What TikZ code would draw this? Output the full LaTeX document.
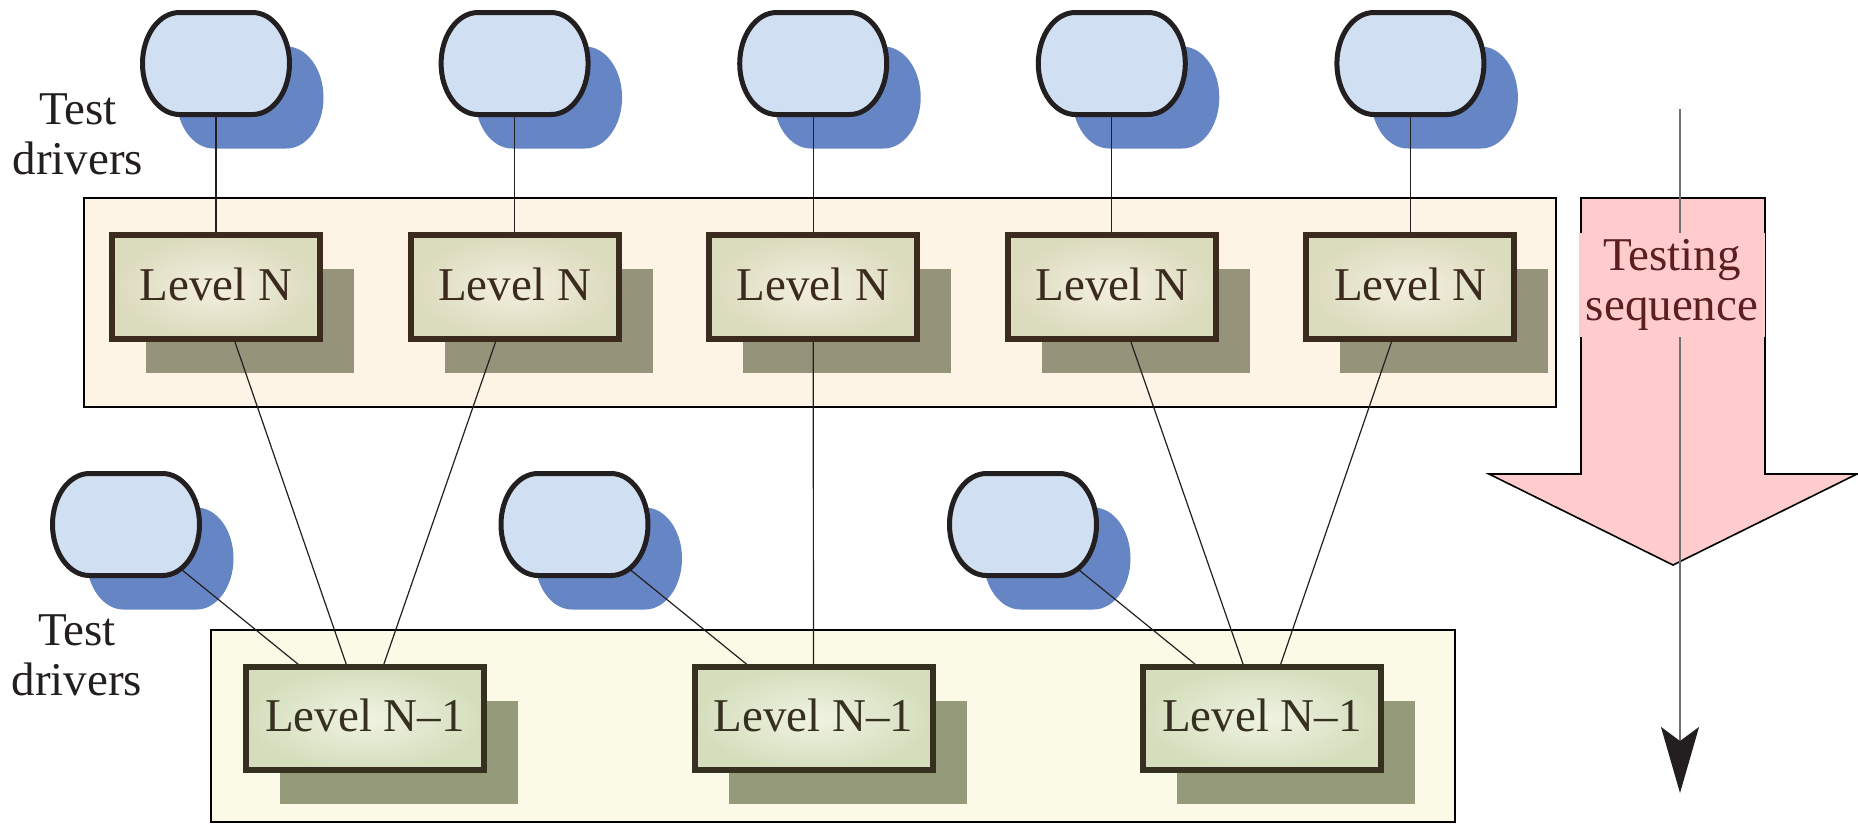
\documentclass[tikz,border=0pt]{standalone}
\usepackage{fontspec}
\setmainfont{Liberation Serif}
\usetikzlibrary{arrows.meta}
\pgfdeclarelayer{bg}
\pgfdeclarelayer{shadow}
\pgfdeclarelayer{lines}
\pgfsetlayers{bg,shadow,lines,main}
\definecolor{pillfill}{HTML}{D0E0F2}
\definecolor{pillshadow}{HTML}{6685C4}
\definecolor{ink}{HTML}{231F20}
\definecolor{outerA}{HTML}{FDF4E6}
\definecolor{outerB}{HTML}{FAFAE6}
\definecolor{lvlNline}{HTML}{3B2B1E}
\definecolor{lvlNin}{HTML}{F3EFDF}
\definecolor{lvlNout}{HTML}{DBDBBD}
\definecolor{lvlNshadow}{HTML}{96937B}
\definecolor{lvlMline}{HTML}{35301F}
\definecolor{lvlMin}{HTML}{F0F3E2}
\definecolor{lvlMout}{HTML}{D4DEBC}
\definecolor{lvlMshadow}{HTML}{959A7B}
\definecolor{arrowfill}{HTML}{FFCCCE}
\definecolor{seqtext}{HTML}{5B1F22}
\definecolor{seqline}{HTML}{707070}
% pill outline around an (invisible) node; #1 style, #2 node, #3 shift
\newcommand\pillpath[3]{\path[#1] ([shift={#3},xshift=-18.5pt]#2.north east)
  arc[start angle=90,end angle=-90,x radius=18.5pt,y radius=25.5pt]
  -- ([shift={#3},xshift=18.5pt]#2.south west)
  arc[start angle=270,end angle=90,x radius=18.5pt,y radius=25.5pt] -- cycle;}
\newcommand\boxshadow[2]{\fill[#2] ([shift={(17pt,-17pt)}]#1.south west) rectangle ([shift={(17pt,-17pt)}]#1.north east);}
\tikzset{
  bigfont/.style={font=\fontsize{23.5pt}{25pt}\selectfont},
  outerbox/.style={draw=black, line width=1pt, inner sep=0pt, outer sep=0pt},
  pillnode/.style={minimum width=73.5pt, minimum height=51pt, inner sep=0pt, outer sep=0pt},
  pillbody/.style={draw=ink, line width=2.5pt, fill=pillfill},
  lvlN/.style={bigfont, draw=lvlNline, line width=3pt, shading=radial, inner color=lvlNin, outer color=lvlNout,
    minimum width=104pt, minimum height=52pt, inner sep=0pt, outer sep=0pt, text=lvlNline, text depth=3pt},
  lvlM/.style={bigfont, draw=lvlMline, line width=3pt, shading=radial, inner color=lvlMin, outer color=lvlMout,
    minimum width=119pt, minimum height=51.5pt, inner sep=0pt, outer sep=0pt, text=lvlMline, text depth=3pt},
  conn/.style={draw=ink, line width=0.6pt},
  sidelabel/.style={bigfont, align=center, text=ink, inner sep=0pt},
  bigarrow/.style={fill=arrowfill, draw=black, line width=0.8pt, line join=miter},
  seqarrow/.style={draw=seqline, line width=1pt, -{Stealth[length=33pt, width=19pt, inset=7pt, color=ink]}},
  seqlabel/.style={bigfont, align=center, text=seqtext, fill=arrowfill}
}
\begin{document}
\begin{tikzpicture}[x=0.5pt, y=-0.5pt]
\useasboundingbox (0,0) rectangle (1858,826);
% group boxes and big arrow
\begin{pgfonlayer}{bg}
  \node[outerbox, fill=outerA, minimum width=736pt, minimum height=104.5pt] (grpN) at (819.5,302.5) {};
  \node[outerbox, fill=outerB, minimum width=622pt, minimum height=96pt] (grpM) at (833,726) {};
  \draw[bigarrow] (1581,198) -- (1765,198) -- (1765,474) -- (1857,474) -- (1673,565) -- (1489,474) -- (1581,474) -- cycle;
\end{pgfonlayer}
% nodes
\foreach \i/\x in {1/216,2/514.6,3/813.2,4/1111.8,5/1410.4} {
  \node[pillnode] (pA\i) at (\x,63.5) {};
  \node[lvlN] (nA\i) at (\x,287) {Level N};
}
\foreach \i/\x/\px in {1/365/126,2/813.5/574.5,3/1262/1023} {
  \node[pillnode] (pB\i) at (\px,524.5) {};
  \node[lvlM] (nB\i) at (\x,718.5) {Level N\textendash 1};
}
\foreach \i in {1,...,5} { \pillpath{pillbody}{pA\i}{(0pt,0pt)} }
\foreach \i in {1,...,3} { \pillpath{pillbody}{pB\i}{(0pt,0pt)} }
% shadows
\begin{pgfonlayer}{shadow}
  \foreach \i in {1,...,5} { \pillpath{fill=pillshadow}{pA\i}{(17pt,-17pt)} \boxshadow{nA\i}{lvlNshadow} }
  \foreach \i in {1,...,3} { \pillpath{fill=pillshadow}{pB\i}{(17pt,-17pt)} \boxshadow{nB\i}{lvlMshadow} }
\end{pgfonlayer}
% connectors
\begin{pgfonlayer}{lines}
  \foreach \i in {1,...,5} { \draw[conn] (pA\i.center) -- (nA\i.center); }
  \foreach \i in {1,...,3} { \draw[conn] (pB\i.center) -- (nB\i.center); }
  \draw[conn] (nA1.center) -- (nB1.center);
  \draw[conn] (nA2.center) -- (nB1.center);
  \draw[conn] (nA3.center) -- (nB2.center);
  \draw[conn] (nA4.center) -- (nB3.center);
  \draw[conn] (nA5.center) -- (nB3.center);
\end{pgfonlayer}
% labels
\node[sidelabel] (tdA) at (78,134) {Test\\drivers};
\node[sidelabel] (tdB) at (77,655) {Test\\drivers};
% testing sequence
\coordinate (seqTop) at (1680,109);
\coordinate (seqEnd) at (1680,793);
\draw[seqarrow] (seqTop) -- (seqEnd);
\node[seqlabel] (seq) at (1672,285) {Testing\\sequence};
\end{tikzpicture}
\end{document}
